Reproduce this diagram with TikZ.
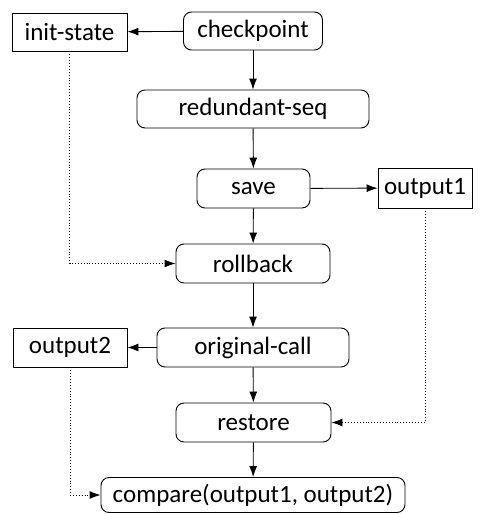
\documentclass[tikz,border=0pt]{standalone}
\usepackage{fontspec}
\setmainfont{Carlito}
\usetikzlibrary{arrows.meta}
\begin{document}
\begin{tikzpicture}[x=1pt,y=-1pt,
  base/.style={draw,line width=0.9pt,inner sep=0pt,font=\fontsize{25}{30}\selectfont},
  rbox/.style={base,rounded corners=8pt},
  sbox/.style={base},
  arr/.style={line width=0.9pt,-{Latex[length=11pt,width=8pt]}},
  darr/.style={line width=0.9pt,dotted,-{Latex[length=11pt,width=8pt]}}]
\useasboundingbox (0,0) rectangle (480,514);
\node[sbox,minimum width=115pt,minimum height=38pt] (init) at (69.5,32) {init-state};
\node[rbox,minimum width=139pt,minimum height=38pt] (chk) at (253,31) {checkpoint};
\node[rbox,minimum width=232pt,minimum height=38pt] (red) at (253,109) {redundant-seq};
\node[rbox,minimum width=113pt,minimum height=39pt] (save) at (253.5,188.5) {save};
\node[sbox,minimum width=94pt,minimum height=40pt] (out1) at (425,188) {output1};
\node[rbox,minimum width=154pt,minimum height=39pt] (rb) at (253,263.5) {rollback};
\node[rbox,minimum width=192pt,minimum height=39pt] (orig) at (253,347.5) {original-call};
\node[sbox,minimum width=114pt,minimum height=39pt] (out2) at (70,347.5) {output2};
\node[rbox,minimum width=155pt,minimum height=39pt] (rest) at (253.5,422.5) {restore};
\node[rbox,minimum width=304pt,minimum height=35pt] (cmp) at (253,495) {compare(output1, output2)};
\draw[arr] (chk) -- (init);
\draw[arr] (chk) -- (red);
\draw[arr] (red) -- (save);
\draw[arr] (save) -- (out1);
\draw[arr] (save) -- (rb);
\draw[arr] (rb) -- (orig);
\draw[arr] (orig) -- (out2);
\draw[arr] (orig) -- (rest);
\draw[arr] (rest) -- (cmp);
\draw[darr] (init.south) |- (rb.west);
\draw[darr] (out1.south) |- (rest.east);
\draw[darr] (out2.south) |- (cmp.west);
\end{tikzpicture}
\end{document}
